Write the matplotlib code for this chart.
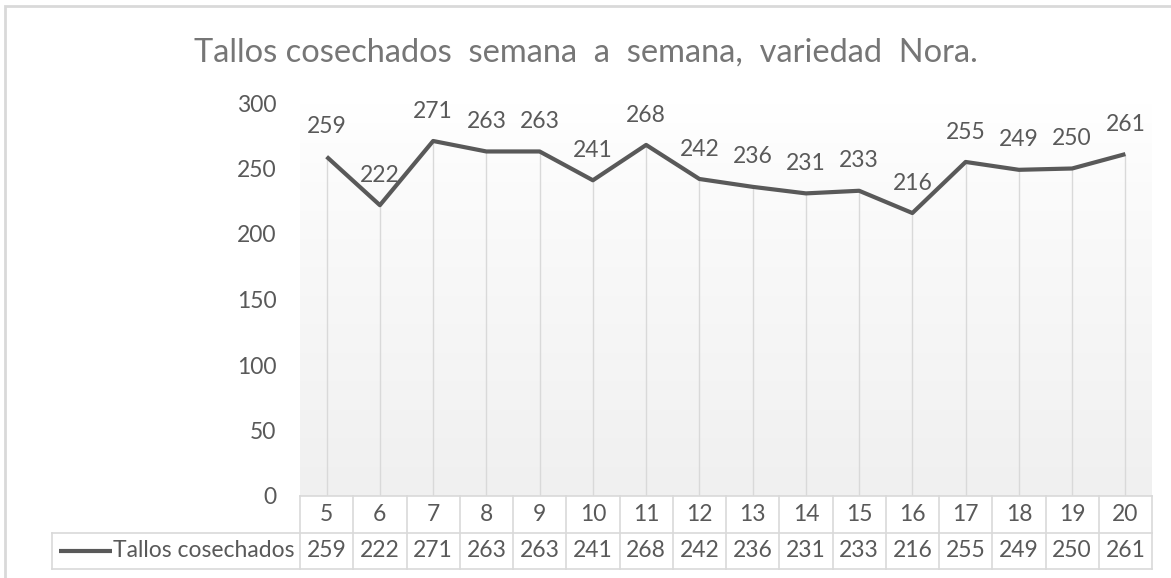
import numpy as np
import matplotlib
matplotlib.use("Agg")
import matplotlib.pyplot as plt
from matplotlib.patches import Rectangle

# --- data ---------------------------------------------------------------
semanas = ["5", "6", "7", "8", "9", "10", "11", "12", "13", "14",
           "15", "16", "17", "18", "19", "20"]
tallos = [259, 222, 271, 263, 263, 241, 268, 242, 236, 231,
          233, 216, 255, 249, 250, 261]
serie = "Tallos cosechados"
titulo = "Tallos cosechados  semana  a  semana,  variedad  Nora."
yticks = [0, 50, 100, 150, 200, 250, 300]

# --- style --------------------------------------------------------------
W, H = 1171, 578
TXT = "#595959"
TITLE = "#767676"
LINE = "#595959"
GRID = "#d9d9d9"
FS = 16.5
plt.rcParams["font.family"] = ["Lato", "DejaVu Sans"]


def fx(px):
    return px / W


def fy(py):
    return 1 - py / H


fig = plt.figure(figsize=(W / 100, H / 100), dpi=100)

# chart border (cut by image edge on right/bottom like the screenshot)
fig.patches.append(Rectangle((fx(5.5), fy(590)), fx(1200), fy(6.5) - fy(590),
                             transform=fig.transFigure, fill=False,
                             ec="#d9d9d9", lw=2.0))

# plot area: x 300..1152 px, y from 0 at 496 px to 300 at 103 px
left, right, bot, top = 300, 1152, 496, 103
ax = fig.add_axes([fx(left), fy(bot), fx(right - left), fy(top) - fy(bot)])
n = len(tallos)
x = np.arange(n)
ax.set_xlim(-0.5, n - 0.5)
ax.set_ylim(0, 300)

# gradient fill white -> light grey
grad = np.linspace(0, 1, 256)[:, None]
ax.imshow(grad, extent=(-0.5, n - 0.5, 0, 300), aspect="auto",
          cmap=matplotlib.colors.LinearSegmentedColormap.from_list(
              "g", [(0, "#f0f0f0"), (0.8, "#fbfbfb"), (1, "#ffffff")]),
          origin="lower", zorder=0)

# drop lines
ax.vlines(x, 0, tallos, color=GRID, lw=1.0, zorder=1)
ax.plot(x, tallos, color=LINE, lw=3.0, solid_joinstyle="round",
        solid_capstyle="butt", zorder=3)
for xi, v in zip(x, tallos):
    ax.annotate(str(v), (xi, v), xytext=(0, 21.5), textcoords="offset points",
                ha="center", va="center", fontsize=FS, color=TXT)

ax.set_yticks(yticks)
ax.set_yticklabels([str(t) for t in yticks])
ax.tick_params(axis="y", length=0, pad=17, labelsize=FS, labelcolor=TXT)
ax.set_xticks([])
for s in ax.spines.values():
    s.set_visible(False)

# --- data table ---------------------------------------------------------
cw = (right - left) / n
tl, tb = 52, 569
lw_units = (left - tl) / cw
tax = fig.add_axes([fx(tl), fy(tb), fx(right - tl), fy(bot) - fy(tb)])
tax.set_xlim(-0.5 - lw_units, n - 0.5)
tax.set_ylim(0, 2)
tax.axis("off")
mid = 2 - (532.7 - bot) / ((tb - bot) / 2)

kw = dict(color=GRID, lw=1.2, clip_on=False)
tax.plot([-0.5, n - 0.5], [2, 2], **kw)
tax.plot([-0.5 - lw_units, n - 0.5], [mid, mid], **kw)
tax.plot([-0.5 - lw_units, n - 0.5], [0, 0], **kw)
tax.plot([-0.5 - lw_units] * 2, [0, mid], **kw)
for k in range(n + 1):
    tax.plot([k - 0.5] * 2, [0, 2], **kw)

for xi, s, v in zip(x, semanas, tallos):
    tax.text(xi, (2 + mid) / 2, s, ha="center", va="center",
             fontsize=FS, color=TXT)
    tax.text(xi, mid / 2, str(v), ha="center", va="center",
             fontsize=FS, color=TXT)

# legend key + series name
kx0 = -0.5 - lw_units + (59 - tl) / cw
kx1 = -0.5 - lw_units + (112 - tl) / cw
tax.plot([kx0, kx1], [mid / 2, mid / 2], color=LINE, lw=3.0,
         solid_capstyle="butt", clip_on=False)
tax.text(-0.5 - 0.1, mid / 2, serie, ha="right", va="center",
         fontsize=FS, color=TXT)

fig.text(0.5, fy(53), titulo, ha="center", va="center",
         fontsize=23.5, color=TITLE)

fig.savefig("out.png", dpi=100)
